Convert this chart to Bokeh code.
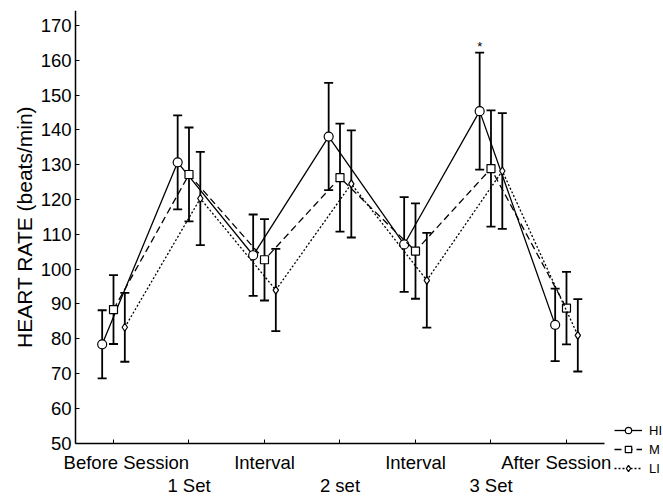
from bokeh.plotting import figure
from bokeh.models import ColumnDataSource, Whisker, FixedTicker, Legend, LegendItem, Range1d, TeeHead
from bokeh.embed import file_html
from bokeh.resources import INLINE
from bokeh.core.properties import value

# ---- data ----
time_points = ["Before Session", "1 Set", "Interval", "2 set", "Interval", "3 Set", "After Session"]
positions = [1, 2, 3, 4, 5, 6, 7]

hi_mean = [78.4, 130.7, 104.0, 138.1, 107.1, 145.4, 84.0]
hi_sd = [9.8, 13.5, 11.7, 15.4, 13.6, 16.8, 10.4]

m_mean = [88.4, 127.2, 102.7, 126.3, 105.2, 128.9, 88.8]
m_sd = [9.9, 13.5, 11.7, 15.5, 13.7, 16.7, 10.4]

li_mean = [83.3, 120.3, 94.0, 124.5, 96.8, 128.2, 81.0]
li_sd = [9.9, 13.4, 11.8, 15.4, 13.6, 16.6, 10.4]

series_names = ["HI", "M", "LI"]
series_offsets = [-0.15, 0.0, 0.15]
y_ticks = [50, 60, 70, 80, 90, 100, 110, 120, 130, 140, 150, 160, 170]
significant = ["", "", "", "", "", "*", ""]   # HI series, 3 Set

FONT = "Liberation Sans"
X_MIN, X_MAX = -0.4967, 8.285
X_AXIS_START = 0.497
Y_MIN, Y_MAX = 35.55, 174.31
NBSP = "\u00a0"

p = figure(width=663, height=498, output_backend="svg", toolbar_location=None,
           x_range=Range1d(X_MIN, X_MAX), y_range=Range1d(Y_MIN, Y_MAX),
           min_border_left=0, min_border_right=0, min_border_top=10, min_border_bottom=5)
p.outline_line_color = None
p.xgrid.visible = False
p.ygrid.visible = False
p.background_fill_color = "white"
p.border_fill_color = "white"

styles = {
    "HI": dict(dash="solid", marker="circle", size=9),
    "M": dict(dash="7 4", marker="square", size=8),
    "LI": dict(dash="2 2", marker="diamond", size=8),
}

means = [hi_mean, m_mean, li_mean]
sds = [hi_sd, m_sd, li_sd]
legend_items = []
for name, off, mu, sd in zip(series_names, series_offsets, means, sds):
    xs = [x + off for x in positions]
    src = ColumnDataSource(dict(x=xs, y=mu,
                                upper=[a + b for a, b in zip(mu, sd)],
                                lower=[a - b for a, b in zip(mu, sd)]))
    st = styles[name]
    lr = p.line("x", "y", source=src, line_color="black", line_width=1.3,
                line_dash=st["dash"])
    w = Whisker(base="x", upper="upper", lower="lower", source=src, dimension="height",
                line_color="black", line_width=1.8,
                upper_head=TeeHead(size=9, line_color="black", line_width=1.8),
                lower_head=TeeHead(size=9, line_color="black", line_width=1.8))
    p.add_layout(w)
    mr = p.scatter("x", "y", source=src, marker=st["marker"], size=st["size"],
                   fill_color="white", line_color="black", line_width=1.2)
    legend_items.append(LegendItem(label=name, renderers=[lr, mr]))
    if name == "HI":
        sig_x = [x for x, s in zip(xs, significant) if s]
        sig_y = [u for u, s in zip(src.data["upper"], significant) if s]
        sig_t = [s for s in significant if s]
        p.text(x=sig_x, y=sig_y, text=sig_t, text_align="center", text_baseline="middle",
               y_offset=-6, text_font_size="13px", text_font=value(FONT), text_color="black")

legend = Legend(items=legend_items, location=(614, 17), orientation="vertical",
                label_text_font=FONT, label_text_font_size="13px", label_text_color="black",
                glyph_width=28, glyph_height=16, label_standoff=7, spacing=3,
                padding=0, margin=0, border_line_color=None, background_fill_alpha=0,
                label_height=16)
p.add_layout(legend)

# axes
xa = p.xaxis[0]
xa.fixed_location = 50
xa.ticker = FixedTicker(ticks=positions)
labels = {}
for i, (pos, t) in enumerate(zip(positions, time_points)):
    labels[pos] = t if i % 2 == 0 else "\n" + t
# the first and last labels sit slightly inward in the reference
labels[positions[0]] = NBSP * 5 + time_points[0]
labels[positions[-1]] = time_points[-1] + NBSP * 4
xa.major_label_overrides = labels
xa.bounds = (X_AXIS_START, 7.5)
xa.major_tick_in = 4
xa.major_tick_out = 0
xa.minor_tick_line_color = None
xa.axis_line_width = 1.5
xa.axis_line_color = "black"
xa.major_tick_line_color = "black"
xa.major_label_text_font = FONT
xa.major_label_text_font_size = "18.5px"
xa.major_label_text_line_height = 1.08
xa.major_label_text_color = "black"
xa.major_label_standoff = 9

ya = p.yaxis[0]
ya.fixed_location = X_AXIS_START
ya.ticker = FixedTicker(ticks=y_ticks)
ya.bounds = (50, Y_MAX)
ya.major_tick_in = 4
ya.major_tick_out = 0
ya.minor_tick_line_color = None
ya.axis_line_width = 1.5
ya.axis_line_color = "black"
ya.major_tick_line_color = "black"
ya.major_label_text_font = FONT
ya.major_label_text_font_size = "18.5px"
ya.major_label_text_color = "black"
ya.major_label_standoff = 4
ya.axis_label = "HEART RATE (beats/min)"
ya.axis_label_text_font = FONT
ya.axis_label_text_font_size = "21px"
ya.axis_label_text_font_style = "normal"
ya.axis_label_text_color = "black"
ya.axis_label_standoff = 2

open("out.html", "w").write(file_html(p, INLINE))
